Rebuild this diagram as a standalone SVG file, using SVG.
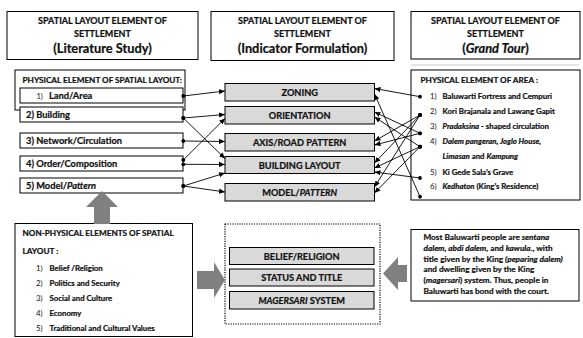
<svg xmlns="http://www.w3.org/2000/svg" width="583" height="338" viewBox="0 0 583 338">
  <style>
    text { font-family: Lato, "Open Sans", "Liberation Sans", sans-serif; font-weight: bold; fill: #111; stroke: #111; stroke-width: 0.22; }
    .box { fill: #fff; stroke: #000; stroke-width: 1; }
    .ind { fill: #d9d9d9; stroke: #000; stroke-width: 1; }
    .hd { font-size: 9px; text-anchor: middle; }
    .hd2 { font-size: 12.8px; text-anchor: middle; }
    .lbl { font-size: 9.2px; text-anchor: middle; }
    .ttl { font-size: 8.2px; }
    .itm { font-size: 9.3px; }
    .area { font-size: 7.8px; }
    .np { font-size: 7.8px; }
    .note { font-size: 8.2px; }
    .num { font-weight: normal; stroke-width: 0; }
    .it { font-style: italic; }
    .con { stroke: #000; stroke-width: 0.9; fill: none; marker-start: url(#dot); marker-end: url(#arr); }
    .big { fill: #808080; }
  </style>
  <defs>
    <marker id="arr" markerUnits="userSpaceOnUse" markerWidth="6" markerHeight="6" refX="6" refY="3" orient="auto">
      <path d="M0,0.4 L6,3 L0,5.6 z" fill="#000"/>
    </marker>
    <marker id="dot" markerUnits="userSpaceOnUse" markerWidth="5" markerHeight="5" refX="2.5" refY="2.5">
      <circle cx="2.5" cy="2.5" r="1.9" fill="#000"/>
    </marker>
  </defs>

  <rect width="583" height="338" fill="#fff"/>

  <!-- column headers -->
  <g id="header-literature">
    <rect class="box" x="7" y="11.5" width="191" height="48"/>
    <text class="hd" x="102.5" y="24">SPATIAL LAYOUT ELEMENT OF</text>
    <text class="hd" x="102.5" y="37">SETTLEMENT</text>
    <text class="hd2" x="102.5" y="52.5">(Literature Study)</text>
  </g>
  <g id="header-indicator">
    <rect class="box" x="211" y="11.5" width="183" height="49"/>
    <text class="hd" x="302.5" y="24">SPATIAL LAYOUT ELEMENT OF</text>
    <text class="hd" x="302.5" y="37">SETTLEMENT</text>
    <text class="hd2" x="302.5" y="52.5">(Indicator Formulation)</text>
  </g>
  <g id="header-grandtour">
    <rect class="box" x="411" y="11.5" width="169" height="47.5"/>
    <text class="hd" x="495.5" y="24">SPATIAL LAYOUT ELEMENT OF</text>
    <text class="hd" x="495.5" y="37">SETTLEMENT</text>
    <text class="hd2" x="495.5" y="52.5">(<tspan class="it">Grand Tour</tspan>)</text>
  </g>
  <line x1="411" y1="65" x2="579" y2="65" stroke="#c8c8c8" stroke-width="1"/>

  <!-- physical elements of spatial layout -->
  <g id="physical-layout">
    <rect class="box" x="15" y="70" width="170" height="40"/>
    <text class="ttl" x="22.5" y="82.5">PHYSICAL ELEMENT OF SPATIAL LAYOUT:</text>
  </g>
  <g id="item-land">
    <rect class="box" x="20" y="88" width="163" height="15"/>
    <text class="itm" x="36.5" y="99"><tspan class="num" font-size="7.5">1)</tspan><tspan x="49">Land/Area</tspan></text>
  </g>
  <g id="item-building">
    <rect class="box" x="20" y="107" width="163" height="15"/>
    <text class="itm" x="26" y="118">2) Building</text>
  </g>
  <g id="item-network">
    <rect class="box" x="20" y="133" width="163" height="15"/>
    <text class="itm" x="26" y="144">3) Network/Circulation</text>
  </g>
  <g id="item-order">
    <rect class="box" x="20" y="156" width="163" height="15"/>
    <text class="itm" x="26" y="167">4) Order/Composition</text>
  </g>
  <g id="item-model">
    <rect class="box" x="20" y="178" width="163" height="15"/>
    <text class="itm" x="26" y="189">5) Model/<tspan class="it">Pattern</tspan></text>
  </g>

  <!-- indicators -->
  <g id="ind-zoning">
    <rect class="ind" x="225" y="83.5" width="149.5" height="17.5"/>
    <text class="lbl" x="299.7" y="95.5">ZONING</text>
  </g>
  <g id="ind-orientation">
    <rect class="ind" x="225" y="106.5" width="149.5" height="17.5"/>
    <text class="lbl" x="299.7" y="118.5">ORIENTATION</text>
  </g>
  <g id="ind-axis">
    <rect class="ind" x="225" y="133.5" width="149.5" height="17.5"/>
    <text class="lbl" x="299.7" y="145.5">AXIS/ROAD PATTERN</text>
  </g>
  <g id="ind-building-layout">
    <rect class="ind" x="225" y="156.5" width="149.5" height="17"/>
    <text class="lbl" x="299.7" y="168.5">BUILDING LAYOUT</text>
  </g>
  <g id="ind-model">
    <rect class="ind" x="225" y="183.5" width="149.5" height="17.5"/>
    <text class="lbl" x="299.7" y="195.5">MODEL/<tspan class="it">PATTERN</tspan></text>
  </g>

  <!-- physical elements of area -->
  <g id="physical-area">
    <rect class="box" x="411" y="70" width="169" height="130"/>
    <text class="ttl" x="420.5" y="82.5" font-size="8.8">PHYSICAL ELEMENT OF AREA :</text>
    <text class="area" x="430" y="98.5"><tspan class="num">1)</tspan><tspan x="442.5">Baluwarti Fortress and Cempuri</tspan></text>
    <text class="area" x="430" y="113.5"><tspan class="num">2)</tspan><tspan x="442.5">Kori Brajanala and Lawang Gapit</tspan></text>
    <text class="area" x="430" y="128.5"><tspan class="num">3)</tspan><tspan x="442.5" class="it">Pradaksina</tspan> - shaped circulation</text>
    <text class="area" x="430" y="143.5"><tspan class="num">4)</tspan><tspan x="442.5" class="it">Dalem pangeran, Joglo House,</tspan></text>
    <text class="area" x="442.5" y="158.5"><tspan class="it">Limasan</tspan> and <tspan class="it">Kampung</tspan></text>
    <text class="area" x="430" y="174.5"><tspan class="num">5)</tspan><tspan x="442.5">Ki Gede Sala’s Grave</tspan></text>
    <text class="area" x="430" y="189"><tspan class="num">6)</tspan><tspan x="442.5" class="it">Kedhaton</tspan> (King’s Residence)</text>
  </g>

  <!-- non-physical elements -->
  <g id="non-physical">
    <rect class="box" x="15" y="223.5" width="177.5" height="113"/>
    <text class="ttl" x="22.5" y="235.5">NON-PHYSICAL ELEMENTS OF SPATIAL</text>
    <text class="ttl" x="22.5" y="253.5">LAYOUT :</text>
    <text class="np" x="36" y="271"><tspan class="num">1)</tspan><tspan x="49.5">Belief /Religion</tspan></text>
    <text class="np" x="36" y="286"><tspan class="num">2)</tspan><tspan x="49.5">Politics and Security</tspan></text>
    <text class="np" x="36" y="301"><tspan class="num">3)</tspan><tspan x="49.5">Social and Culture</tspan></text>
    <text class="np" x="36" y="316"><tspan class="num">4)</tspan><tspan x="49.5">Economy</tspan></text>
    <text class="np" x="36" y="331"><tspan class="num">5)</tspan><tspan x="49.5">Traditional and Cultural Values</tspan></text>
  </g>

  <!-- non-physical indicators -->
  <g id="non-physical-indicators">
    <rect x="225" y="224" width="155" height="100" fill="none" stroke="#000" stroke-width="1.2" stroke-dasharray="1.2 1.2"/>
  </g>
  <g id="ind-belief">
    <rect class="ind" x="229.5" y="247.5" width="144.5" height="17"/>
    <text class="lbl" x="301.7" y="259.5">BELIEF/RELIGION</text>
  </g>
  <g id="ind-status">
    <rect class="ind" x="229.5" y="269" width="144.5" height="17"/>
    <text class="lbl" x="301.7" y="281">STATUS AND  TITLE</text>
  </g>
  <g id="ind-magersari">
    <rect class="ind" x="229.5" y="291.5" width="144.5" height="17.5"/>
    <text class="lbl" x="301.7" y="303.5"><tspan class="it">MAGERSARI</tspan> SYSTEM</text>
  </g>

  <!-- observation note -->
  <g id="note-baluwarti">
    <rect class="box" x="411" y="229.5" width="168" height="71.5"/>
    <text class="note" x="423.5" y="239.5">Most Baluwarti people are <tspan class="it">sentana</tspan></text>
    <text class="note" x="423.5" y="250.5"><tspan class="it">dalem, abdi dalem</tspan>, and <tspan class="it">kawula</tspan>., with</text>
    <text class="note" x="423.5" y="261.5">title given by the King <tspan class="it">(peparing dalem)</tspan></text>
    <text class="note" x="423.5" y="272">and dwelling given by the King</text>
    <text class="note" x="423.5" y="283">(<tspan class="it">magersari</tspan>) system. Thus, people in</text>
    <text class="note" x="423.5" y="294">Baluwarti has bond with the court.</text>
  </g>

  <!-- block arrows -->
  <g id="block-arrows">
    <polygon class="big" points="94,224 94,207 86,207 102,191 118,207 110,207 110,224"/>
    <polygon class="big" points="197,271 214,271 214,262 225,280 214,298 214,289 197,289"/>
    <polygon class="big" points="407,265 398,265 398,257 383,273.5 398,290 398,282 407,282"/>
  </g>

  <!-- connectors -->
  <g id="connectors">
    <line class="con" x1="183.3" y1="96" x2="225" y2="91"/>
    <line class="con" x1="183.3" y1="118" x2="225" y2="114.5"/>
    <line class="con" x1="183.3" y1="118" x2="225" y2="158.5"/>
    <line class="con" x1="183.3" y1="141" x2="225" y2="141.5"/>
    <line class="con" x1="183.3" y1="160" x2="225" y2="118.5"/>
    <line class="con" x1="183.3" y1="164.3" x2="225" y2="164.5"/>
    <line class="con" x1="183.3" y1="186" x2="225" y2="173"/>
    <line class="con" x1="183.3" y1="186" x2="225" y2="192"/>

    <line class="con" x1="420" y1="96.7" x2="374.5" y2="88.5"/>
    <line class="con" x1="420" y1="196.7" x2="374.5" y2="94"/>
    <line class="con" x1="420" y1="133.3" x2="374.5" y2="112"/>
    <line class="con" x1="420" y1="146.7" x2="374.5" y2="117"/>
    <line class="con" x1="420" y1="115" x2="374.5" y2="141"/>
    <line class="con" x1="420" y1="133.3" x2="374.5" y2="145"/>
    <line class="con" x1="420" y1="115" x2="374.5" y2="163"/>
    <line class="con" x1="420" y1="146.7" x2="374.5" y2="168"/>
    <line class="con" x1="420" y1="178" x2="374.5" y2="172"/>
    <line class="con" x1="420" y1="115" x2="374.5" y2="187"/>
    <line class="con" x1="420" y1="146.7" x2="374.5" y2="193"/>
  </g>
</svg>
